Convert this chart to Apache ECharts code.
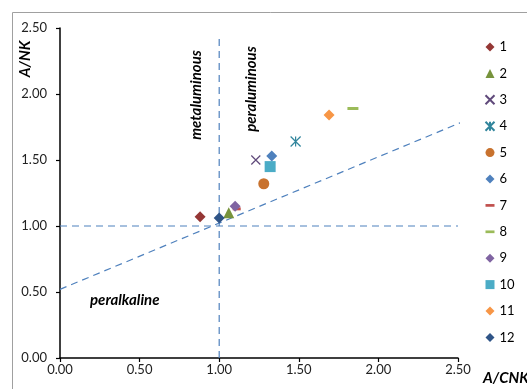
<!DOCTYPE html>
<html>
<head>
<meta charset="utf-8">
<script src="https://cdn.jsdelivr.net/npm/echarts@6/dist/echarts.min.js"></script>
<style>
  html, body { margin: 0; padding: 0; background: #fff; }
  #box1 { width: 527px; height: 389px; }
</style>
</head>
<body>
<div id="box1"></div>
<script>
// sample names and their A/CNK, A/NK values
var sampleNames = ['1', '2', '3', '4', '5', '6', '7', '8', '9', '10', '11', '12'];
var acnk = [0.88, 1.06, 1.23, 1.48, 1.28, 1.33, 1.11, 1.84, 1.10, 1.32, 1.69, 1.00];
var ank  = [1.07, 1.10, 1.50, 1.64, 1.32, 1.53, 1.13, 1.89, 1.15, 1.45, 1.84, 1.06];
var sampleColors = ['#953735', '#77933C', '#604A7B', '#31859C', '#C8722E', '#4F81BD',
                    '#C0504D', '#9BBB59', '#8064A2', '#4BACC6', '#F79646', '#2F5487'];

// tick labels
var xTicks = [0, 0.5, 1.0, 1.5, 2.0, 2.5];
var yTicks = [0, 0.5, 1.0, 1.5, 2.0, 2.5];

// boundary lines
var vLine = [[1.0, 0], [1.0, 2.43]];
var hLine = [[0, 1.0], [2.5, 1.0]];
var diagLine = [[0, 0.52], [2.53, 1.79]];

var X_PATH = 'path://M0,0L10,10M10,0L0,10';
var STAR_PATH = 'path://M0,0L10,10M10,0L0,10M5,0L5,10';
var DASH_PATH = 'path://M0,0L10,0L10,3L0,3Z';

// marker per sample
var markers = [
  { symbol: 'diamond', size: 11 },
  { symbol: 'triangle', size: 11 },
  { symbol: X_PATH, size: 9, stroke: true },
  { symbol: STAR_PATH, size: 10, stroke: true },
  { symbol: 'circle', size: 11 },
  { symbol: 'diamond', size: 11 },
  { symbol: DASH_PATH, size: [8, 3] },
  { symbol: DASH_PATH, size: [11, 3] },
  { symbol: 'diamond', size: 11 },
  { symbol: 'rect', size: 11 },
  { symbol: 'diamond', size: 11 },
  { symbol: 'diamond', size: 11 }
];

var font = 'Lato, "Liberation Sans", sans-serif';
var lineColor = '#4F81BD';

var series = [];
[vLine, hLine, diagLine].forEach(function (d) {
  series.push({
    type: 'line',
    data: d,
    showSymbol: false,
    silent: true,
    clip: false,
    z: 1,
    lineStyle: { color: lineColor, width: 1.2, type: [7, 5] }
  });
});

sampleNames.forEach(function (name, i) {
  var m = markers[i];
  var c = sampleColors[i];
  series.push({
    name: name,
    type: 'scatter',
    data: [[acnk[i], ank[i]]],
    symbol: m.symbol,
    symbolSize: m.size,
    z: 3,
    itemStyle: m.stroke
      ? { color: 'none', borderColor: c, borderWidth: 1.2, opacity: 1 }
      : { color: c, opacity: 1 }
  });
});

var legendData = sampleNames.map(function (name, i) {
  var item = { name: name };
  if (markers[i].symbol === DASH_PATH) {
    item.icon = DASH_PATH;
  }
  return item;
});

var myChart = echarts.init(document.getElementById('box1'));
var option = {
  animation: false,
  backgroundColor: '#fff',
  grid: { left: 60, right: 69, top: 28, bottom: 31 },
  xAxis: {
    type: 'value',
    min: 0, max: 2.5, interval: 0.5,
    axisLine: { show: true, lineStyle: { color: '#000', width: 1.5 } },
    axisTick: { show: true, length: 4, lineStyle: { color: '#000', width: 1.2 } },
    splitLine: { show: false },
    axisLabel: {
      margin: 5, color: '#222', fontSize: 13, fontFamily: font,
      formatter: function (v) { return xTicks.indexOf(v) >= 0 ? v.toFixed(2) : ''; }
    }
  },
  yAxis: {
    type: 'value',
    min: 0, max: 2.5, interval: 0.5,
    axisLine: { show: true, lineStyle: { color: '#000', width: 1.5 } },
    axisTick: { show: true, length: 4, lineStyle: { color: '#000', width: 1.2 } },
    splitLine: { show: false },
    axisLabel: {
      margin: 13, color: '#222', fontSize: 13, fontFamily: font,
      formatter: function (v) { return yTicks.indexOf(v) >= 0 ? v.toFixed(2) : ''; }
    }
  },
  legend: {
    orient: 'vertical',
    left: 478,
    top: 35,
    itemWidth: 9,
    itemHeight: 9,
    itemGap: 12.4,
    data: legendData,
    textStyle: { fontSize: 13, fontFamily: font, color: '#000', lineHeight: 14 }
  },
  graphic: [
    {
      type: 'rect', z: -1, silent: true,
      shape: { x: 12.5, y: 12.5, width: 600, height: 500 },
      style: { fill: 'none', stroke: '#A0A0A0', lineWidth: 1 }
    },
    {
      type: 'text', x: 25, y: 59, rotation: Math.PI / 2,
      style: { text: 'A/NK', fontSize: 15, fontWeight: 'bold', fontStyle: 'italic',
               fontFamily: font, fill: '#000', align: 'center', verticalAlign: 'middle' }
    },
    {
      type: 'text', x: 483, y: 378,
      style: { text: 'A/CNK', fontSize: 15, fontWeight: 'bold', fontStyle: 'italic',
               fontFamily: font, fill: '#000', align: 'left', verticalAlign: 'middle' }
    },
    {
      type: 'text', x: 196, y: 95, rotation: Math.PI / 2,
      style: { text: 'metaluminous', fontSize: 15, fontWeight: 'bold', fontStyle: 'italic',
               fontFamily: font, fill: '#000', align: 'center', verticalAlign: 'middle' }
    },
    {
      type: 'text', x: 251, y: 89, rotation: Math.PI / 2,
      style: { text: 'peraluminous', fontSize: 15, fontWeight: 'bold', fontStyle: 'italic',
               fontFamily: font, fill: '#000', align: 'center', verticalAlign: 'middle' }
    },
    {
      type: 'text', x: 90, y: 300,
      style: { text: 'peralkaline', fontSize: 15, fontWeight: 'bold', fontStyle: 'italic',
               fontFamily: font, fill: '#000', align: 'left', verticalAlign: 'middle' }
    }
  ],
  series: series
};
myChart.setOption(option);
</script>
</body>
</html>
